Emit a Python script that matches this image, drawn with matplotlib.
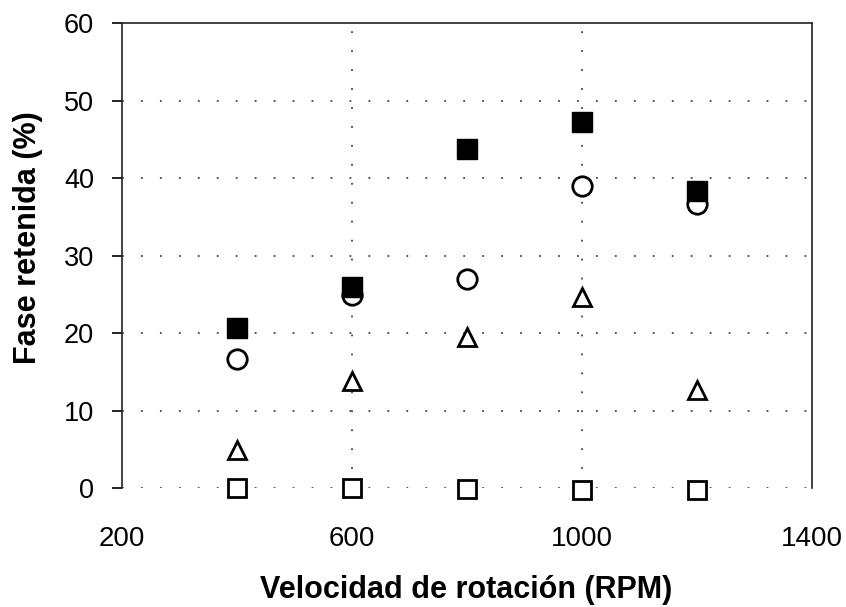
import matplotlib
matplotlib.use("Agg")
import matplotlib.pyplot as plt

plt.rcParams['font.family'] = ['Liberation Sans', 'DejaVu Sans']

rpm = [400, 600, 800, 1000, 1200]
filled_sq = [20.7, 26.0, 43.7, 47.2, 38.3]
circles = [16.7, 24.9, 27.0, 39.0, 36.6]
triangles = [4.9, 13.8, 19.5, 24.6, 12.6]
open_sq = [0.0, 0.0, -0.1, -0.2, -0.3]

xticks = [200, 600, 1000, 1400]
yticks = [0, 10, 20, 30, 40, 50, 60]

fig = plt.figure(figsize=(8.46, 6.07), dpi=100)
ax = fig.add_axes([0.1442, 0.196, 0.8156, 0.766])

ax.set_xlim(200, 1400)
ax.set_ylim(0, 60)

grid_ls = (0, (1, 9.5))
for y in [0, 10, 20, 30, 40, 50]:
    ax.axhline(y, color='#444444', lw=1.3, ls=grid_ls, zorder=1)
for x in [600, 1000]:
    ax.axvline(x, color='#444444', lw=1.3, ls=grid_ls, zorder=1)

ax.plot(rpm, open_sq, ls='none', marker='s', ms=12.5, mfc='white', mec='black', mew=2.0, zorder=3, clip_on=False)
ax.plot(rpm, triangles, ls='none', marker='^', ms=13, mfc='white', mec='black', mew=2.0, zorder=3, clip_on=False)
ax.plot(rpm, circles, ls='none', marker='o', ms=14, mfc='white', mec='black', mew=2.0, zorder=3, clip_on=False)
ax.plot(rpm, filled_sq, ls='none', marker='s', ms=14.5, mfc='black', mec='black', mew=1, zorder=4, clip_on=False)

ax.spines['bottom'].set_visible(False)
for s in ['left', 'right', 'top']:
    ax.spines[s].set_linewidth(1.2)
    ax.spines[s].set_color('#222222')

ax.set_xticks(xticks)
ax.set_yticks(yticks)
ax.tick_params(axis='x', length=0, pad=27, labelsize=20)
ax.tick_params(axis='y', direction='out', length=7, width=1.2, pad=13, labelsize=19.5)

fig.text(466 / 846, 1 - 590 / 607, 'Velocidad de rotación (RPM)',
         fontsize=22, fontweight='bold', ha='center', va='center')
fig.text(28 / 846, 1 - 238 / 607, 'Fase retenida (%)',
         fontsize=22, fontweight='bold', ha='center', va='center', rotation=90)

fig.savefig('out.png', dpi=100)
